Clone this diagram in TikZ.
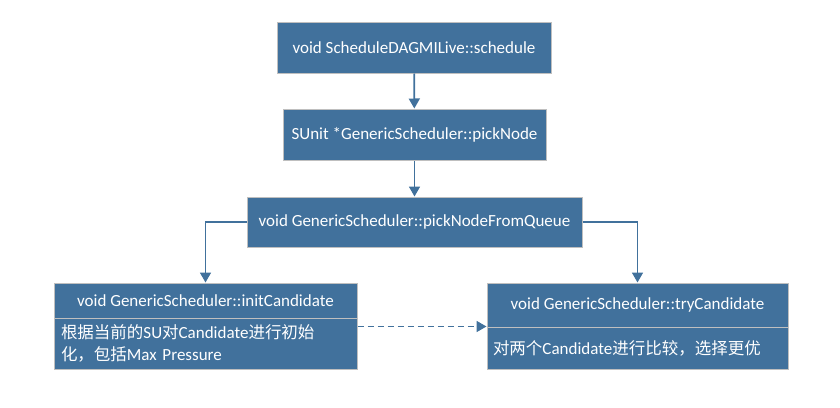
\documentclass[tikz,border=0pt]{standalone}
\usepackage{fontspec}
\setmainfont{Carlito}
\newfontfamily\cjk[Scale=0.97]{Noto Sans CJK SC}
\usetikzlibrary{arrows.meta}
\definecolor{boxblue}{HTML}{41719C}
\definecolor{boxline}{HTML}{BFBFBF}

\begin{document}
\begin{tikzpicture}[x=1pt, y=-1pt, every node/.style={font=\fontsize{17}{22}\selectfont, text=white},
  fn/.style={draw=boxline, fill=boxblue, line width=1pt, inner sep=0pt},
  link/.style={draw=boxblue, line width=1.7pt, -{Triangle[width=11pt,length=10pt]}}]
\useasboundingbox (0,0) rectangle (840,407);
\node[fn,minimum width=274pt,minimum height=51pt] (sched) at (414,47.5) {void ScheduleDAGMILive::schedule};
\node[fn,minimum width=263pt,minimum height=51pt] (pick) at (414.5,134.5) {SUnit *GenericScheduler::pickNode};
\draw[link] (sched) -- (pick);
\node[fn,minimum width=335pt,minimum height=50pt] (queue) at (414.5,222) {void GenericScheduler::pickNodeFromQueue};
\draw[link] (pick) -- (queue);
% left: initCandidate
\node[fn,minimum width=303pt,minimum height=35pt] (initHead) at (205.5,300.5) {void GenericScheduler::initCandidate};
\node[fn,text width=289pt,align=left,inner xsep=7pt,minimum height=51pt] (initBody) at (205.5,343.5)
  {{\cjk 根据当前的}SU{\cjk 对}Candidate{\cjk 进行初始}\\{\cjk 化，包括}Max Pressure};
% right: tryCandidate
\node[fn,minimum width=301pt,minimum height=44pt] (tryHead) at (637.5,305) {void GenericScheduler::tryCandidate};
\node[fn,text width=289pt,align=left,inner xsep=6pt,minimum height=42pt] (tryBody) at (637.5,348)
  {{\cjk 对两个}Candidate{\cjk 进行比较，选择更优}};
\draw[link] (queue.west) -| (initHead.north);
\draw[link] (queue.east) -| (tryHead.north);
\draw[link,dash pattern=on 6pt off 4pt] (initBody.east |- tryBody.north) -- (tryBody.north west);
\end{tikzpicture}
\end{document}
